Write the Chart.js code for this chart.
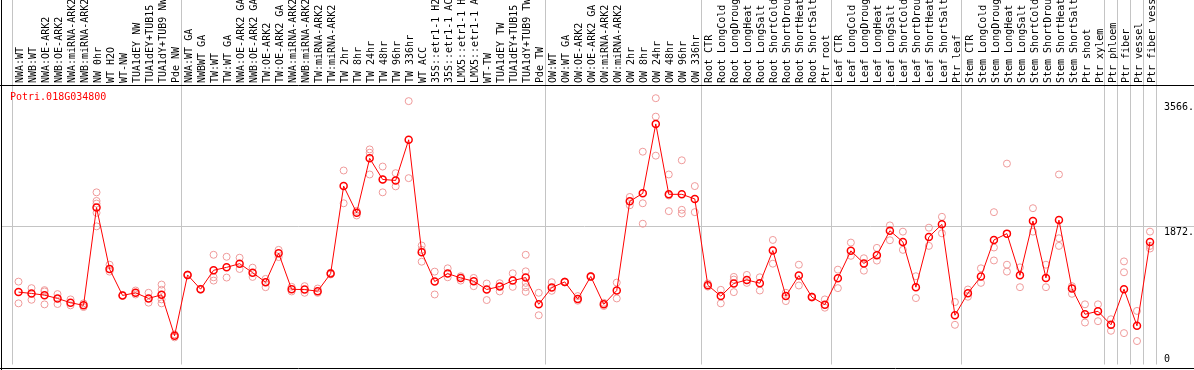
<!DOCTYPE html>
<html>
<head>
<meta charset="utf-8">
<script src="https://cdn.jsdelivr.net/npm/chart.js@4.4.0/dist/chart.umd.min.js"></script>
<style>
	body { margin: 0; background: #fff; }
	#wrap { width: 1194px; height: 370px; }
</style>
</head>
<body>
<div id="wrap"><canvas id="myChart"></canvas></div>
<script>
// # ===============================
// # = Data
// # ===============================
var geneName = 'Potri.018G034800';

var categories = [
	'NWA:WT', 'NWB:WT', 'NWA:OE-ARK2', 'NWB:OE-ARK2', 'NWA:miRNA-ARK2', 'NWB:miRNA-ARK2',
	'NW 0hr', 'WT H2O', 'WT-NW', 'TUA1dEY NW', 'TUA1dEY+TUB15 NW', 'TUA1dY+TUB9 NW', 'Pde NW',
	'NWA:WT GA', 'NWBWT GA', 'TW:WT', 'TW:WT GA', 'NWA:OE-ARK2 GA', 'NWB:OE-ARK2 GA',
	'TW:OE-ARK2', 'TW:OE-ARK2 GA', 'NWA:miRNA-ARK2 GA', 'NWB:miRNA-ARK2 GA', 'TW:miRNA-ARK2',
	'TW:miRNA-ARK2 GA', 'TW 2hr', 'TW 8hr', 'TW 24hr', 'TW 48hr', 'TW 96hr', 'TW 336hr',
	'WT ACC', '35S::etr1-1 H2O', '35S::etr1-1 ACC', 'LMX5::etr1-1 H2O', 'LMX5::etr1-1 ACC',
	'WT-TW', 'TUA1dEY TW', 'TUA1dEY+TUB15 TW', 'TUA1dY+TUB9 TW', 'Pde TW',
	'OW:WT', 'OW:WT GA', 'OW:OE-ARK2', 'OW:OE-ARK2 GA', 'OW:miRNA-ARK2', 'OW:miRNA-ARK2 GA',
	'OW 2hr', 'OW 8hr', 'OW 24hr', 'OW 48hr', 'OW 96hr', 'OW 336hr',
	'Root CTR', 'Root LongCold', 'Root LongDrought', 'Root LongHeat', 'Root LongSalt',
	'Root ShortCold', 'Root ShortDrought', 'Root ShortHeat', 'Root ShortSalt', 'Ptr root',
	'Leaf CTR', 'Leaf LongCold', 'Leaf LongDrought', 'Leaf LongHeat', 'Leaf LongSalt',
	'Leaf ShortCold', 'Leaf ShortDrought', 'Leaf ShortHeat', 'Leaf ShortSalt', 'Ptr leaf',
	'Stem CTR', 'Stem LongCold', 'Stem LongDrought', 'Stem LongHeat', 'Stem LongSalt',
	'Stem ShortCold', 'Stem ShortDrought', 'Stem ShortHeat', 'Stem ShortSalt', 'Ptr shoot', 'Ptr xylem',
	'Ptr phloem', 'Ptr fiber', 'Ptr vessel', 'Ptr fiber vessel'
];

var means = [
	985, 967, 944, 899, 841, 805, 2136, 1300, 940, 976, 899, 949, 391,
	1219, 1025, 1282, 1322, 1372, 1250, 1120, 1515, 1023, 1020, 998, 1237, 2428, 2064, 2806, 2518, 2505, 3058,
	1529, 1129, 1237, 1178, 1133, 1021, 1061, 1142, 1183, 819,
	1048, 1124, 890, 1198, 819, 1007, 2221, 2329, 3274, 2316, 2316, 2253,
	1079, 931, 1102, 1151, 1106, 1551, 931, 1210, 917, 814,
	1174, 1547, 1376, 1486, 1821, 1668, 1052, 1736, 1907, 670,
	971, 1196, 1695, 1781, 1214, 1952, 1178, 1965, 1034, 684, 724,
	540, 1025, 526, 1668
];

var replicates = [
	[1128, 832], [1039, 881], [1012, 994, 818], [958, 823], [886, 805], [832, 782],
	[2343, 2226, 2190, 2064, 1880], [1358, 1264], [945, 935], [1007, 953], [976, 841],
	[1088, 1016, 886, 832], [369, 410],
	[1225, 1212], [1030, 1020], [1493, 1187, 1142], [1466, 1183], [1453, 1300], [1318, 1192],
	[1165, 1052], [1560, 1462], [1057, 994], [1066, 976], [1034, 975], [1250, 1225],
	[2640, 2194], [2091, 2028], [2927, 2882, 2586], [2694, 2343, 2518], [2604, 2424], [3584, 2536],
	[1619, 1399, 1560], [1264, 953], [1309, 1187], [1201, 1142], [1178, 1066],
	[1102, 877], [1106, 994], [1241, 1057], [1493, 1268, 1111, 1052, 989], [976, 670],
	[1120, 1003], [1130, 1118], [931, 868], [1205, 1190], [796, 840], [1115, 899],
	[2280, 2167], [2896, 2194, 1916], [3624, 3373, 2842], [2586, 2087, 2300], [2779, 2105, 2055], [2428, 2073],
	[1102, 1060], [1016, 832], [1192, 1156, 985], [1219, 1111], [1187, 1007],
	[1695, 1372], [976, 863], [1358, 1075], [925, 910], [886, 773],
	[1291, 1039], [1659, 1479], [1446, 1277], [1587, 1414], [1893, 1691],
	[1808, 1560], [1201, 904], [1862, 1614], [2010, 1785], [850, 540],
	[1021, 922], [1309, 1111], [2073, 1592, 1416], [2734, 1358, 1264], [1322, 1052],
	[2127, 1808], [1358, 1052], [2586, 1718, 1614], [1066, 962], [819, 571], [819, 589],
	[616, 459], [1403, 1255, 427], [729, 319], [1808, 1614, 1578]
];

// index of the first category of each group (vertical separators)
var groupStarts = [0, 13, 41, 53, 63, 73, 84, 85, 86, 87];

var yTicks = [0, 1872, 3566];
var yTickLabels = ['0', '1872.', '3566.'];
var yMax = 3790;
var refLine = 1872;

// # ===============================
// # = Chart
// # ===============================
var repPoints = [];
replicates.forEach(function(list, i) {
	list.forEach(function(v) {
		repPoints.push({ x: categories[i], y: v });
	});
});

var monoFont = { family: 'DejaVu Sans Mono', size: 10, lineHeight: 1 };
var sepColor = '#c4c4c4';

var framePlugin = {
	id: 'frame',
	afterDraw: function(chart) {
		var c = chart.ctx;
		var a = chart.chartArea;
		c.save();
		c.strokeStyle = '#000';
		c.lineWidth = 1;
		c.beginPath();
		c.moveTo(0, a.top - 0.5); c.lineTo(chart.width, a.top - 0.5);
		c.moveTo(1.5, 0); c.lineTo(1.5, chart.height);
		c.moveTo(0, chart.height - 1.5); c.lineTo(chart.width, chart.height - 1.5);
		c.stroke();
		c.fillStyle = '#ff0000';
		c.font = '10px "DejaVu Sans Mono"';
		c.textBaseline = 'top';
		c.fillText(geneName, a.left - 2, a.top + 6);
		c.restore();
	}
};

var refGrid = function(ctx) {
	return ctx.tick && ctx.tick.value === refLine ? sepColor : 'rgba(0,0,0,0)';
};

const ctx = document.getElementById('myChart');

new Chart(ctx, {
	type: 'line',
	data: {
		labels: categories,
		datasets: [{
			label: 'mean',
			data: means,
			borderColor: '#ff0000',
			borderWidth: 1,
			pointRadius: 3.5,
			pointBorderWidth: 1.5,
			pointBorderColor: '#ff0000',
			pointBackgroundColor: 'rgba(255,255,255,0)',
			order: 0
		}, {
			label: 'replicates',
			data: repPoints,
			showLine: false,
			pointRadius: 3.5,
			pointBorderWidth: 1,
			pointBorderColor: '#ef9a9a',
			pointBackgroundColor: 'rgba(255,255,255,0)',
			order: 1
		}]
	},
	options: {
		responsive: true,
		maintainAspectRatio: false,
		animation: false,
		devicePixelRatio: 1,
		layout: { padding: { left: 2, right: 0, top: 0, bottom: 3 } },
		plugins: {
			legend: { display: false },
			tooltip: { enabled: false }
		},
		scales: {
			x: {
				position: 'top',
				offset: true,
				afterFit: function(s) { s.height = 86; },
				grid: {
					offset: true,
					tickLength: 86,
					color: function(c) {
						return (c.index === undefined || groupStarts.indexOf(c.index) >= 0) ? sepColor : 'rgba(0,0,0,0)';
					}
				},
				border: { display: false },
				ticks: {
					autoSkip: false,
					minRotation: 90,
					maxRotation: 90,
					padding: -83,
					labelOffset: 12,
					color: '#000',
					font: monoFont
				}
			},
			y: {
				position: 'right',
				min: 0,
				max: yMax,
				afterBuildTicks: function(s) {
					s.ticks = yTicks.map(function(v) { return { value: v }; });
				},
				afterFit: function(s) { s.width = 37.5; },
				grid: { color: refGrid, tickLength: 38 },
				border: { display: false },
				ticks: {
					padding: -30.5,
					color: '#000',
					font: monoFont,
					callback: function(v) {
						var lab = yTickLabels[yTicks.indexOf(v)];
						return v === 0 ? [lab, ''] : ['', lab];
					}
				}
			},
			yLeft: {
				position: 'left',
				min: 0,
				max: yMax,
				afterBuildTicks: function(s) {
					s.ticks = [{ value: refLine }];
				},
				afterFit: function(s) { s.width = 10; },
				grid: { color: refGrid, tickLength: 10, drawOnChartArea: false },
				border: { display: false },
				ticks: { display: false }
			}
		}
	},
	plugins: [framePlugin]
});
</script>
</body>
</html>
